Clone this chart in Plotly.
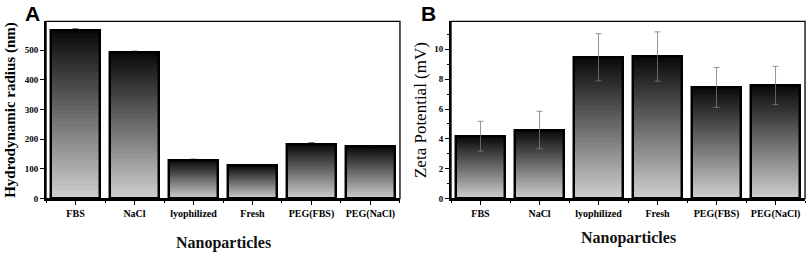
import plotly.graph_objects as go
import numpy as np

categories = ["FBS", "NaCl", "lyophilized", "Fresh", "PEG(FBS)", "PEG(NaCl)"]
radius_nm = [567, 493, 130, 112, 184, 175]
radius_err = [4, 3, 2, 2, 3, 3]
zeta_mv = [4.18, 4.6, 9.47, 9.52, 7.45, 7.58]
zeta_err = [1.0, 1.25, 1.58, 1.65, 1.34, 1.28]

N_SEG = 40
BAR_W = 0.83
xpos = list(range(len(categories)))

def shade(i):
    t = i / (N_SEG - 1)
    v = int(round(205 - t * 195))
    return f"rgb({v},{v},{v})"

fig = go.Figure()

def add_panel(vals, errs, xa, ya, errcolor, errw):
    vals = np.array(vals, dtype=float)
    for i in range(N_SEG):
        fig.add_trace(go.Bar(
            x=xpos, y=vals / N_SEG, base=vals * i / N_SEG,
            marker=dict(color=shade(i), line=dict(width=0)),
            width=BAR_W, xaxis=xa, yaxis=ya, showlegend=False, hoverinfo="skip"))
    fig.add_trace(go.Bar(
        x=xpos, y=vals, customdata=categories,
        marker=dict(color="rgba(0,0,0,0)", line=dict(color="black", width=2.5)),
        width=BAR_W, xaxis=xa, yaxis=ya, showlegend=False,
        error_y=dict(type="data", array=errs, color=errcolor, thickness=errw, width=3)))

add_panel(radius_nm, radius_err, "x", "y", "black", 1.2)
add_panel(zeta_mv, zeta_err, "x2", "y2", "#7a7a7a", 0.8)

ydom = [0.221, 0.916]

common_x = dict(range=[-0.5, 5.5], showline=True, linecolor="black", linewidth=2,
                tickmode="array", tickvals=xpos, ticktext=categories,
                ticks="outside", ticklen=4, tickwidth=1, tickcolor="black",
                minor=dict(ticks="outside", ticklen=2, tick0=0.5, dtick=1, tickcolor="black"),
                tickfont=dict(family="Liberation Serif", size=10, color="black", weight="bold"),
                showgrid=False, zeroline=False, fixedrange=True)
common_y = dict(showline=True, linecolor="black", linewidth=2, ticks="outside", ticklen=4,
                tickwidth=1, tickcolor="black",
                tickfont=dict(family="Liberation Serif", size=9, color="black", weight="bold"),
                showgrid=False, zeroline=False, domain=ydom)

fig.update_layout(
    width=809, height=260, margin=dict(l=0, r=0, t=0, b=0),
    paper_bgcolor="white", plot_bgcolor="white", barmode="overlay", bargap=0,
    xaxis=dict(common_x, domain=[0.0569, 0.4944], anchor="y"),
    yaxis=dict(common_y, range=[0, 597], dtick=100, anchor="x",
               title=dict(text="<b>Hydrodynamic radius (nm)</b>", standoff=5,
                          font=dict(family="Liberation Serif", size=15, color="black"))),
    xaxis2=dict(common_x, domain=[0.5575, 0.9951], anchor="y2"),
    yaxis2=dict(common_y, range=[0, 11.87], dtick=2, anchor="x2",
                minor=dict(ticks="outside", ticklen=2, dtick=1, tickcolor="black"),
                title=dict(text="Zeta Potential (mV)", standoff=3,
                           font=dict(family="Liberation Serif", size=17, color="black"))),
    showlegend=False,
)

for xr, yr in (("x domain", "y domain"), ("x2 domain", "y2 domain")):
    fig.add_shape(type="rect", xref=xr, yref=yr, x0=0, x1=1, y0=0, y1=1,
                  line=dict(color="black", width=1.3), fillcolor="rgba(0,0,0,0)", layer="above")

ann_font = dict(family="Liberation Sans", size=21, color="black")
fig.add_annotation(text="<b>A</b>", xref="x domain", yref="paper", x=-14/354, y=1-14/260,
                   xanchor="center", yanchor="middle", showarrow=False, font=ann_font)
fig.add_annotation(text="<b>B</b>", xref="x2 domain", yref="paper", x=-23/354, y=1-14/260,
                   xanchor="center", yanchor="middle", showarrow=False, font=ann_font)
xt_font = dict(family="Liberation Serif", size=16, color="#111111", weight="bold")
fig.add_annotation(text="Nanoparticles", xref="x domain", yref="paper", x=0.5, y=1-248/260,
                   xanchor="center", yanchor="middle", showarrow=False, font=xt_font)
fig.add_annotation(text="Nanoparticles", xref="x2 domain", yref="paper", x=0.5, y=1-243/260,
                   xanchor="center", yanchor="middle", showarrow=False, font=xt_font)

fig.write_html("out.html", config={"displayModeBar": False},
               post_script="document.body.style.margin='0';document.body.style.overflow='hidden';")
